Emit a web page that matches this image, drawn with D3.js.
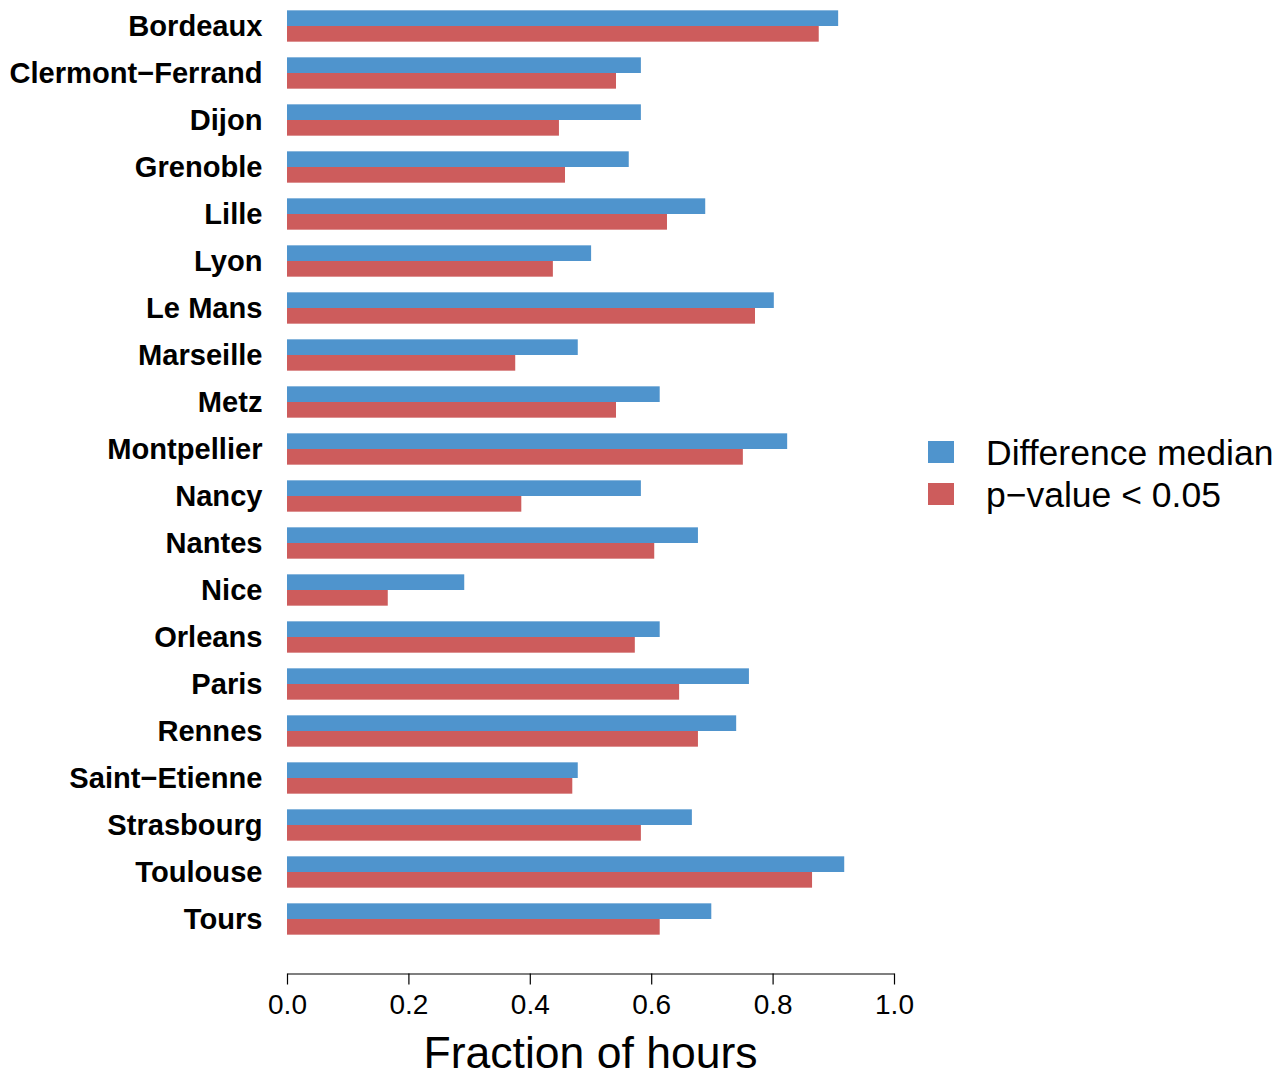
<!DOCTYPE html>
<html>
<head>
<meta charset="utf-8">
<script src="https://cdn.jsdelivr.net/npm/d3@7"></script>
<style>
  html, body { margin: 0; padding: 0; background: #fff; }
  svg { display: block; }
  text { font-family: "Liberation Sans", Arial, Helvetica, sans-serif; fill: #000; }
</style>
</head>
<body>
<svg id="chart" width="1285" height="1079"></svg>
<script>
// Cities, top to bottom
const cities = [
  "Bordeaux", "Clermont\u2212Ferrand", "Dijon", "Grenoble", "Lille", "Lyon",
  "Le Mans", "Marseille", "Metz", "Montpellier", "Nancy", "Nantes", "Nice",
  "Orleans", "Paris", "Rennes", "Saint\u2212Etienne", "Strasbourg", "Toulouse", "Tours"
];

// Fraction of hours where the median differs
const diffMedian = [
  0.908, 0.583, 0.583, 0.563, 0.689, 0.501, 0.802, 0.479, 0.614, 0.824,
  0.583, 0.677, 0.292, 0.614, 0.761, 0.740, 0.479, 0.667, 0.918, 0.699
];

// Fraction of hours with p-value < 0.05
const pValue = [
  0.876, 0.542, 0.448, 0.458, 0.626, 0.438, 0.771, 0.376, 0.542, 0.751,
  0.386, 0.605, 0.166, 0.573, 0.646, 0.677, 0.470, 0.583, 0.865, 0.614
];

const seriesNames = ["Difference median", "p\u2212value < 0.05"];
const seriesColors = ["#4F94CD", "#CD5C5C"];
const xTicks = [0, 0.2, 0.4, 0.6, 0.8, 1.0];

const svg = d3.select("#chart");

const x = d3.scaleLinear().domain([0, 1]).range([287, 894]);

const y = d3.scaleBand()
  .domain(cities)
  .range([2.5, 942.5])
  .paddingInner(1 / 3)
  .paddingOuter(1 / 6);

const ySub = d3.scaleBand()
  .domain([0, 1])
  .range([0, y.bandwidth()]);

const rows = cities.map((c, i) => ({ city: c, values: [diffMedian[i], pValue[i]] }));

// Bars
const groups = svg.append("g")
  .selectAll("g")
  .data(rows)
  .join("g")
  .attr("transform", d => `translate(0,${y(d.city)})`);

groups.selectAll("rect")
  .data(d => d.values.map((v, k) => ({ v, k })))
  .join("rect")
  .attr("x", x(0))
  .attr("y", d => ySub(d.k))
  .attr("width", d => x(d.v) - x(0))
  .attr("height", ySub.bandwidth())
  .attr("fill", d => seriesColors[d.k]);

// City labels
svg.append("g")
  .selectAll("text")
  .data(cities)
  .join("text")
  .attr("x", 262.5)
  .attr("y", d => y(d) + y.bandwidth() / 2)
  .attr("dy", "0.36em")
  .attr("text-anchor", "end")
  .attr("font-weight", "bold")
  .attr("font-size", 29.1)
  .text(d => d);

// X axis
const axis = svg.append("g")
  .attr("transform", "translate(0,973.5)")
  .call(d3.axisBottom(x)
    .tickValues(xTicks)
    .tickFormat(d3.format(".1f"))
    .tickSize(11)
    .tickSizeOuter(0)
    .tickPadding(10));

axis.select(".domain").attr("stroke", "#000").attr("stroke-width", 1.2);
axis.selectAll(".tick line").attr("stroke", "#000").attr("stroke-width", 1.2);
axis.selectAll(".tick text")
  .attr("font-size", 28)
  .attr("font-family", "Liberation Sans, Arial, sans-serif")
  .attr("fill", "#000");

// Axis title
svg.append("text")
  .attr("x", (x(0) + x(1)) / 2)
  .attr("y", 1068)
  .attr("text-anchor", "middle")
  .attr("font-size", 44.5)
  .text("Fraction of hours");

// Legend
const legend = svg.append("g")
  .selectAll("g")
  .data(seriesNames)
  .join("g")
  .attr("transform", (d, i) => `translate(928,${441 + i * 42})`);

legend.append("rect")
  .attr("width", 26)
  .attr("height", 22)
  .attr("fill", (d, i) => seriesColors[i]);

legend.append("text")
  .attr("x", 58)
  .attr("y", 11)
  .attr("dy", "0.36em")
  .attr("font-size", 35.5)
  .text(d => d);
</script>
</body>
</html>
